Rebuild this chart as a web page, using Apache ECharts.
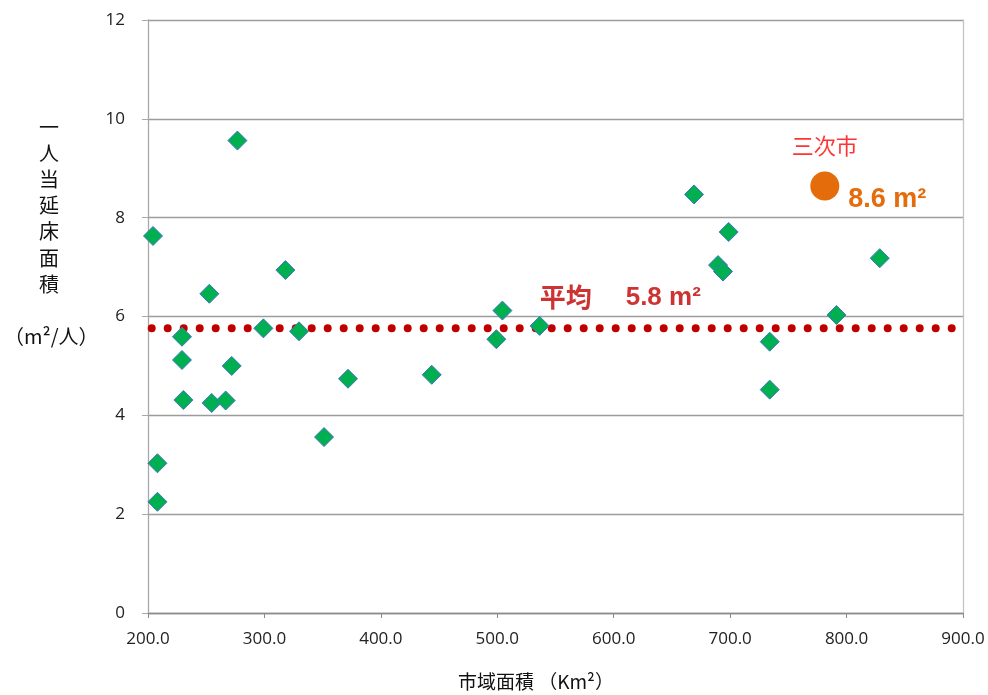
<!DOCTYPE html>
<html>
<head>
<meta charset="utf-8">
<script src="https://cdn.jsdelivr.net/npm/echarts@6/dist/echarts.min.js"></script>
<style>
  html, body { margin: 0; padding: 0; background: #fff; }
  #chart { width: 988px; height: 695px; }
</style>
</head>
<body>
<div id="chart"></div>
<script>
// 市域面積 (km²) and 一人当延床面積 (m²/人) for each comparison city
const cityArea = [
  204.3, 208.1, 208.1, 229.2, 229.2, 230.4, 252.7, 254.7, 266.7, 271.9,
  276.8, 299.1, 318.0, 329.7, 351.2, 371.8, 443.7, 499.2, 504.4, 536.4,
  669.0, 689.6, 693.9, 698.7, 734.0, 734.0, 791.3, 828.5
];
const floorPerPerson = [
  7.63, 3.03, 2.25, 5.59, 5.12, 4.31, 6.46, 4.25, 4.30, 5.00,
  9.56, 5.76, 6.94, 5.70, 3.56, 4.74, 4.82, 5.54, 6.12, 5.81,
  8.47, 7.04, 6.91, 7.71, 5.49, 4.52, 6.03, 7.18
];

// 三次市
const miyoshiName = '三次市';
const miyoshiArea = 781.3;
const miyoshiValue = 8.64;

// 平均
const averageValue = 5.76;

// axis ranges and tick labels
const xRange = [200, 900];
const xStep = 100;
const yRange = [0, 12];
const yStep = 2;

const yTitleChars = ['一', '人', '当', '延', '床', '面', '積'];
const yTitleUnit = '（m²/人）';
const xTitle = '市域面積 （Km²）';

const cityPoints = cityArea.map((x, i) => [x, floorPerPerson[i]]);

const chart = echarts.init(document.getElementById('chart'), null, { renderer: 'canvas' });

const numFont = '"Open Sans", "Liberation Sans", sans-serif';
const jpFont = '"Noto Sans CJK JP", sans-serif';
const boldNumFont = '"Liberation Sans", Arial, sans-serif';

chart.setOption({
  animation: false,
  backgroundColor: '#ffffff',
  grid: { left: 148, right: 25, top: 20, bottom: 82, containLabel: false },
  xAxis: {
    type: 'value',
    min: xRange[0], max: xRange[1], interval: xStep,
    axisLine: { show: true, onZero: false, lineStyle: { color: '#8a8a8a', width: 1.3 } },
    axisTick: { show: true, inside: false, length: 5, lineStyle: { color: '#8a8a8a' } },
    axisLabel: {
      margin: 18, color: '#222', fontSize: 17, fontFamily: numFont,
      formatter: v => v.toFixed(1)
    },
    splitLine: { show: false }
  },
  yAxis: [{
    type: 'value',
    min: yRange[0], max: yRange[1], interval: yStep,
    axisLine: { show: true, onZero: false, lineStyle: { color: '#a8a8a8', width: 1.3 } },
    axisTick: { show: true, length: 6, lineStyle: { color: '#a8a8a8' } },
    axisLabel: { margin: 23, color: '#222', fontSize: 17, fontFamily: numFont },
    splitLine: { show: true, lineStyle: { color: '#9c9c9c', width: 1.3 } }
  }, {
    type: 'value',
    position: 'right',
    min: yRange[0], max: yRange[1], interval: yStep,
    axisLine: { show: true, onZero: false, lineStyle: { color: '#c4c4c4', width: 1.3 } },
    axisTick: { show: false },
    axisLabel: { show: false },
    splitLine: { show: false }
  }],
  graphic: [
    {
      type: 'text', left: 39, top: 114, silent: true,
      style: {
        text: yTitleChars.join('\n'),
        font: '20px ' + jpFont, fill: '#111', lineHeight: 26.2, align: 'center'
      }
    },
    {
      type: 'text', left: 4, top: 326, silent: true,
      style: { text: yTitleUnit, font: '20px ' + jpFont, fill: '#111' }
    },
    {
      type: 'text', left: 458, top: 672, silent: true,
      style: { text: xTitle, font: '19px ' + jpFont, fill: '#111' }
    }
  ],
  series: [
    {
      // 平均 line
      type: 'line',
      data: [[xRange[0], averageValue], [xRange[1], averageValue]],
      symbol: 'none',
      z: 3,
      lineStyle: {
        color: '#C00000', width: 8, cap: 'round',
        type: [0.001, 15.999], dashOffset: 12.3
      },
      silent: true
    },
    {
      type: 'scatter',
      data: cityPoints,
      symbol: 'diamond',
      symbolSize: 19,
      z: 4,
      itemStyle: { color: '#00B050', borderColor: '#4472C4', borderWidth: 1, opacity: 1 }
    },
    {
      // 三次市 marker with its value
      type: 'scatter',
      data: [[miyoshiArea, miyoshiValue]],
      symbol: 'circle',
      symbolSize: 29,
      z: 5,
      itemStyle: { color: '#E46C0A', opacity: 1 },
      label: {
        show: true, position: 'right', distance: 9, offset: [0, 14],
        formatter: p => p.value[1].toFixed(1) + ' m²',
        color: '#E46C0A', fontSize: 27, fontWeight: 'bold', fontFamily: boldNumFont
      }
    },
    {
      // 三次市 name above the marker
      type: 'scatter',
      data: [[miyoshiArea, miyoshiValue]],
      symbol: 'circle',
      symbolSize: 29,
      z: 6,
      itemStyle: { color: 'rgba(0,0,0,0)' },
      label: {
        show: true, position: 'top', distance: 15,
        formatter: miyoshiName,
        color: '#FF0000', fontSize: 22, fontFamily: jpFont
      }
    },
    {
      // 平均 caption
      type: 'scatter',
      data: [[536.4, averageValue]],
      symbolSize: 0,
      z: 6,
      itemStyle: { color: 'rgba(0,0,0,0)' },
      label: {
        show: true, position: 'right', distance: 0, offset: [0, -31],
        formatter: p => '{a|平均}{b|' + p.value[1].toFixed(1) + ' m²}',
        rich: {
          a: { color: '#C00000', fontSize: 26, fontWeight: 'bold', fontFamily: jpFont },
          b: { color: '#C00000', fontSize: 26, fontWeight: 'bold', fontFamily: boldNumFont, padding: [0, 0, 0, 34] }
        }
      }
    }
  ]
});
</script>
</body>
</html>
